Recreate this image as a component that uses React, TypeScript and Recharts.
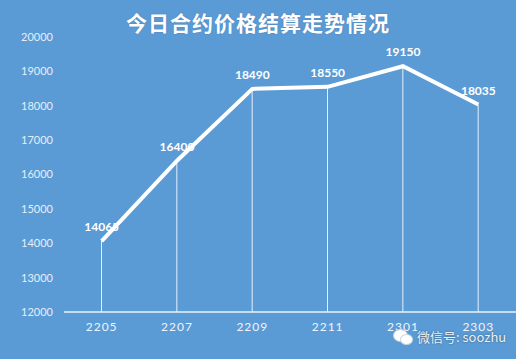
import { ComposedChart, Line, Bar, XAxis, YAxis, LabelList } from "recharts";

const contracts = ["2205", "2207", "2209", "2211", "2301", "2303"];
const settlePrices = [14065, 16400, 18490, 18550, 19150, 18035];
const priceTicks = [12000, 13000, 14000, 15000, 16000, 17000, 18000, 19000, 20000];

const data = contracts.map((name, i) => ({ name, price: settlePrices[i] }));

const BG = "#5b9bd5";

export default function App() {
  return (
    <div style={{ position: "relative", width: 516, height: 359, background: BG, fontFamily: "Lato, 'Noto Sans', sans-serif" }}>
      <style>{`body{margin:0}`}</style>
      <div
        style={{
          position: "absolute",
          top: 9,
          left: 0,
          width: 516,
          textAlign: "center",
          color: "#fff",
          fontFamily: "'Noto Sans CJK SC', sans-serif",
          fontWeight: 700,
          fontSize: 21,
          letterSpacing: 1,
          lineHeight: "26px",
          textShadow: "0 0 2px rgba(0,0,0,0.15)",
        }}
      >
        今日合约价格结算走势情况
      </div>
      <ComposedChart
        width={516}
        height={359}
        data={data}
        margin={{ top: 37, right: 0, bottom: 17, left: 0 }}
      >
        <XAxis
          dataKey="name"
          height={30}
          tickLine={false}
          axisLine={{ stroke: "#eaf2fb", strokeWidth: 1.5 }}
          tick={{ fill: "#eef4fb", fontSize: 12, letterSpacing: 1 }}
          tickMargin={4}
        />
        <YAxis
          domain={[12000, 20000]}
          ticks={priceTicks}
          width={64}
          axisLine={false}
          tickLine={false}
          tickMargin={5}
          tick={{ fill: "#e4eef9", fontSize: 11 }}
        />
        <Bar dataKey="price" barSize={1} fill="rgba(255,255,255,0.85)" isAnimationActive={false} />
        <Line
          dataKey="price"
          stroke="#ffffff"
          strokeWidth={4}
          dot={false}
          activeDot={false}
          isAnimationActive={false}
        >
          <LabelList dataKey="price" position="top" offset={10} fill="#ffffff" fontSize={12} fontWeight={700} />
        </Line>
      </ComposedChart>
      <div style={{ position: "absolute", left: 392, top: 328, width: 22, height: 17 }}>
        <div style={{ position: "absolute", left: 1, top: 1, width: 13, height: 11, borderRadius: "50%", background: "#fff", border: "1px solid #c9d3dc" }} />
        <div style={{ position: "absolute", left: 8, top: 6, width: 11, height: 9, borderRadius: "50%", background: "#fff", border: "1px solid #c9d3dc" }} />
      </div>
      <div
        style={{
          position: "absolute",
          left: 417,
          top: 328,
          color: "#eef1f4",
          fontFamily: "'Noto Sans CJK SC', sans-serif",
          fontSize: 13,
          lineHeight: "18px",
          textShadow: "0 0 2px rgba(0,0,0,0.45)",
        }}
      >
        微信号: soozhu
      </div>
    </div>
  );
}
